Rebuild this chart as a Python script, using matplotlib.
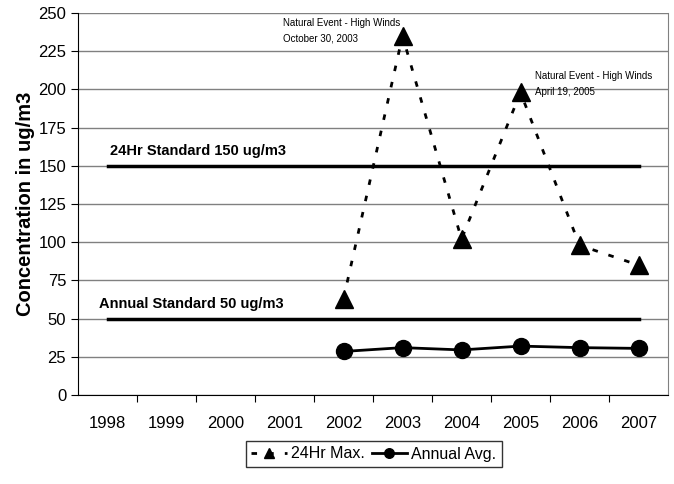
import matplotlib.pyplot as plt
import matplotlib.font_manager as fm

plt.rcParams['font.family'] = ['Liberation Sans', 'DejaVu Sans']

years = ["1998", "1999", "2000", "2001", "2002", "2003", "2004", "2005", "2006", "2007"]
max_years = ["2002", "2003", "2004", "2005", "2006", "2007"]
max_24hr = [63, 235, 102, 198, 98, 85]
annual_avg = [28.5, 31, 29.5, 32, 31, 30.5]
std_24hr = 150
std_annual = 50

narrow = [f for f in ['Liberation Sans Narrow', 'Liberation Sans'] if any(f == x.name for x in fm.fontManager.ttflist)]

fig = plt.figure(figsize=(6.74, 4.84), dpi=100)
ax = fig.add_axes([78 / 674, 89 / 484, 590 / 674, 382 / 484])

xpos = list(range(len(years)))
mx = [years.index(y) for y in max_years]

ax.set_ylim(0, 250)
ax.set_xlim(-0.5, len(years) - 0.5)
ax.set_yticks(range(0, 251, 25))
ax.yaxis.grid(True, color='#808080', lw=1)
ax.set_axisbelow(True)

# standard lines
ax.plot([xpos[0], xpos[-1]], [std_24hr, std_24hr], color='black', lw=2.5)
ax.plot([xpos[0], xpos[-1]], [std_annual, std_annual], color='black', lw=2.5)
ax.text(0.05, std_24hr + 5, "24Hr Standard 150 ug/m3", fontsize=10.5, fontweight='bold',
        family=narrow, va='bottom', ha='left')
ax.text(-0.15, std_annual + 5, "Annual Standard 50 ug/m3", fontsize=10.5, fontweight='bold',
        family=narrow, va='bottom', ha='left')

ax.plot(mx, max_24hr, color='black', lw=2, ls=(0, (2, 4)), marker='^', markersize=12.5,
        label='24Hr Max.')
ax.plot(mx, annual_avg, color='black', lw=2, marker='o', markersize=11.5, label='Annual Avg.')

ax.text(2.97, 247, "Natural Event - High Winds\nOctober 30, 2003", fontsize=7, family=narrow,
        va='top', ha='left', linespacing=1.7)
ax.text(7.25, 212, "Natural Event - High Winds\nApril 19, 2005", fontsize=7, family=narrow,
        va='top', ha='left', linespacing=1.7)

# category ticks
ax.set_xticks([i + 0.5 for i in xpos[:-1]])
ax.set_xticklabels([])
ax.set_xticks(xpos, minor=True)
ax.set_xticklabels(years, minor=True, fontsize=12)
ax.tick_params(axis='x', which='minor', length=0, pad=15)
ax.tick_params(axis='x', which='major', length=5, direction='out')
ax.tick_params(axis='y', length=5, direction='out', labelsize=12)

ax.spines['top'].set_visible(False)
ax.spines['right'].set_color('#808080')
ax.spines['left'].set_color('black')
ax.spines['bottom'].set_color('black')

ax.set_ylabel("Concentration in ug/m3", fontsize=14.5, fontweight='bold', labelpad=2)

leg = fig.legend(loc='center', bbox_to_anchor=(374 / 674, 1 - 454 / 484), ncol=2,
                 frameon=True, fancybox=False, edgecolor='black', fontsize=11.5,
                 handlelength=2.2, columnspacing=0.4, handletextpad=0.3,
                 borderpad=0.35, markerscale=0.6)
leg.get_frame().set_linewidth(1)

fig.savefig("out.png", dpi=100)
